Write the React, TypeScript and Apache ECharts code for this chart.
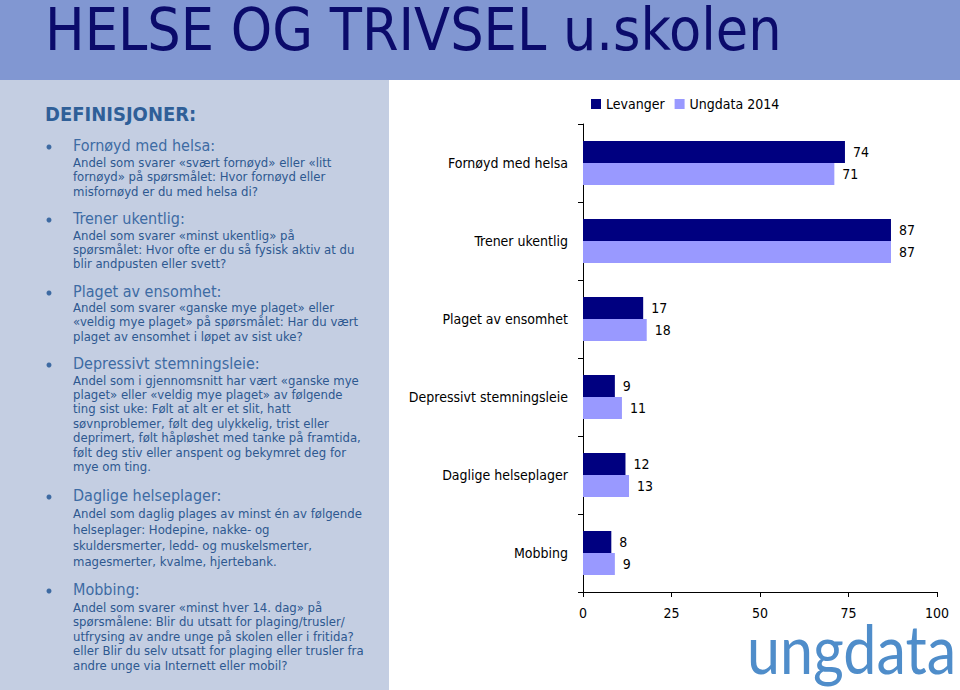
import React, { useEffect, useRef } from "react";
import * as echarts from "echarts";

const categories = [
  "Fornøyd med helsa",
  "Trener ukentlig",
  "Plaget av ensomhet",
  "Depressivt stemningsleie",
  "Daglige helseplager",
  "Mobbing",
];
const levanger = [74, 87, 17, 9, 12, 8];
const ungdata2014 = [71, 87, 18, 11, 13, 9];
const seriesNames = ["Levanger", "Ungdata 2014"];
const xTicks = [0, 25, 50, 75, 100];

const titleText = "HELSE OG TRIVSEL u.skolen";
const defTitle = "DEFINISJONER:";
const defHeadings = [
  "Fornøyd med helsa:",
  "Trener ukentlig:",
  "Plaget av ensomhet:",
  "Depressivt stemningsleie:",
  "Daglige helseplager:",
  "Mobbing:",
];
const defBodies = [
  [
    "Andel som svarer «svært fornøyd» eller «litt",
    "fornøyd» på spørsmålet: Hvor fornøyd eller",
    "misfornøyd er du med helsa di?",
  ],
  [
    "Andel som svarer «minst ukentlig» på",
    "spørsmålet: Hvor ofte er du så fysisk aktiv at du",
    "blir andpusten eller svett?",
  ],
  [
    "Andel som svarer «ganske mye plaget» eller",
    "«veldig mye plaget» på spørsmålet: Har du vært",
    "plaget av ensomhet i løpet av sist uke?",
  ],
  [
    "Andel som i gjennomsnitt har vært «ganske mye",
    "plaget» eller «veldig mye plaget» av følgende",
    "ting sist uke: Følt at alt er et slit, hatt",
    "søvnproblemer, følt deg ulykkelig, trist eller",
    "deprimert, følt håpløshet med tanke på framtida,",
    "følt deg stiv eller anspent og bekymret deg for",
    "mye om ting.",
  ],
  [
    "Andel som daglig plages av minst én av følgende",
    "helseplager: Hodepine, nakke- og",
    "skuldersmerter, ledd- og muskelsmerter,",
    "magesmerter, kvalme, hjertebank.",
  ],
  [
    "Andel som svarer «minst hver 14. dag» på",
    "spørsmålene: Blir du utsatt for plaging/trusler/",
    "utfrysing av andre unge på skolen eller i fritida?",
    "eller Blir du selv utsatt for plaging eller trusler fra",
    "andre unge via Internett eller mobil?",
  ],
];

// layout of the left panel (positions only)
const headingY = [145, 218, 291, 363, 495, 589];
const bodyStartY = [162, 235, 307, 380, 513, 607];
const bodyStep = [14.5, 14.4, 14.5, 14.4, 16.2, 14.6];

const FONT = "Tahoma, 'DejaVu Sans Condensed', 'Liberation Sans', sans-serif";

export default function App() {
  const ref = useRef<HTMLDivElement>(null);
  useEffect(() => {
    document.body.style.margin = "0";
    if (!ref.current) return;
    const chart = echarts.init(ref.current, undefined, { renderer: "svg" });

    const graphics: any[] = [
      { type: "rect", shape: { x: 0, y: 0, width: 960, height: 80 }, style: { fill: "#8197D2" }, z: -10 },
      { type: "rect", shape: { x: 0, y: 80, width: 389, height: 610 }, style: { fill: "#C4CEE2" }, z: -10 },
      {
        type: "text",
        x: 45,
        y: 30,
        scaleX: 1.01,
        style: {
          text: titleText,
          fill: "#0B0B6B",
          font: "58px 'DejaVu Sans Condensed', 'DejaVu Sans', sans-serif",
          verticalAlign: "middle",
          align: "left",
        },
      },
      {
        type: "text",
        x: 45,
        y: 114,
        style: {
          text: defTitle,
          fill: "#2F5F98",
          font: "bold 20px " + FONT,
          verticalAlign: "middle",
        },
      },
      {
        type: "text",
        x: 747,
        y: 648,
        scaleX: 0.87,
        style: {
          text: "ungdata",
          fill: "#4F8DCA",
          font: "68px Lato, 'Open Sans', sans-serif",
          verticalAlign: "middle",
        },
      },
    ];

    defHeadings.forEach((h, i) => {
      graphics.push({
        type: "circle",
        shape: { cx: 49, cy: headingY[i] + 2, r: 2.5 },
        style: { fill: "#3D6AA2" },
      });
      graphics.push({
        type: "text",
        x: 73,
        y: headingY[i],
        style: { text: h, fill: "#3D6BA4", font: "16px " + FONT, verticalAlign: "middle" },
      });
      defBodies[i].forEach((line, j) => {
        graphics.push({
          type: "text",
          x: 73,
          y: bodyStartY[i] + j * bodyStep[i],
          style: { text: line, fill: "#2D5890", font: "13px " + FONT, verticalAlign: "middle" },
        });
      });
    });

    const labelStyle = {
      show: true,
      position: "right",
      distance: 8,
      color: "#000",
      fontSize: 14,
      fontFamily: FONT,
    };

    chart.setOption({
      animation: false,
      textStyle: { fontFamily: FONT },
      graphic: graphics,
      legend: {
        data: seriesNames,
        left: 586,
        top: 92,
        itemWidth: 10,
        itemHeight: 10,
        itemGap: 10,
        icon: "rect",
        textStyle: { fontSize: 14, color: "#000", fontFamily: FONT },
      },
      grid: { left: 583, right: 23, top: 124, bottom: 98 },
      xAxis: {
        type: "value",
        min: xTicks[0],
        max: xTicks[xTicks.length - 1],
        interval: 25,
        axisLine: { show: true, lineStyle: { color: "#000" } },
        axisTick: { show: true, length: 5, lineStyle: { color: "#000" } },
        splitLine: { show: false },
        axisLabel: { color: "#000", fontSize: 14, margin: 14, fontFamily: FONT },
      },
      yAxis: {
        type: "category",
        data: categories,
        inverse: true,
        axisLine: { show: true, lineStyle: { color: "#000" } },
        axisTick: { show: true, length: 5, lineStyle: { color: "#000" } },
        axisLabel: { color: "#000", fontSize: 14, margin: 15, fontFamily: FONT },
      },
      series: [
        {
          name: seriesNames[0],
          type: "bar",
          data: levanger,
          barWidth: 22,
          barGap: "0%",
          itemStyle: { color: "#000080" },
          label: labelStyle,
        },
        {
          name: seriesNames[1],
          type: "bar",
          data: ungdata2014,
          barWidth: 22,
          barGap: "0%",
          itemStyle: { color: "#9999FF" },
          label: labelStyle,
        },
      ],
    });
    return () => chart.dispose();
  }, []);
  return <div ref={ref} style={{ width: 960, height: 690 }} />;
}
